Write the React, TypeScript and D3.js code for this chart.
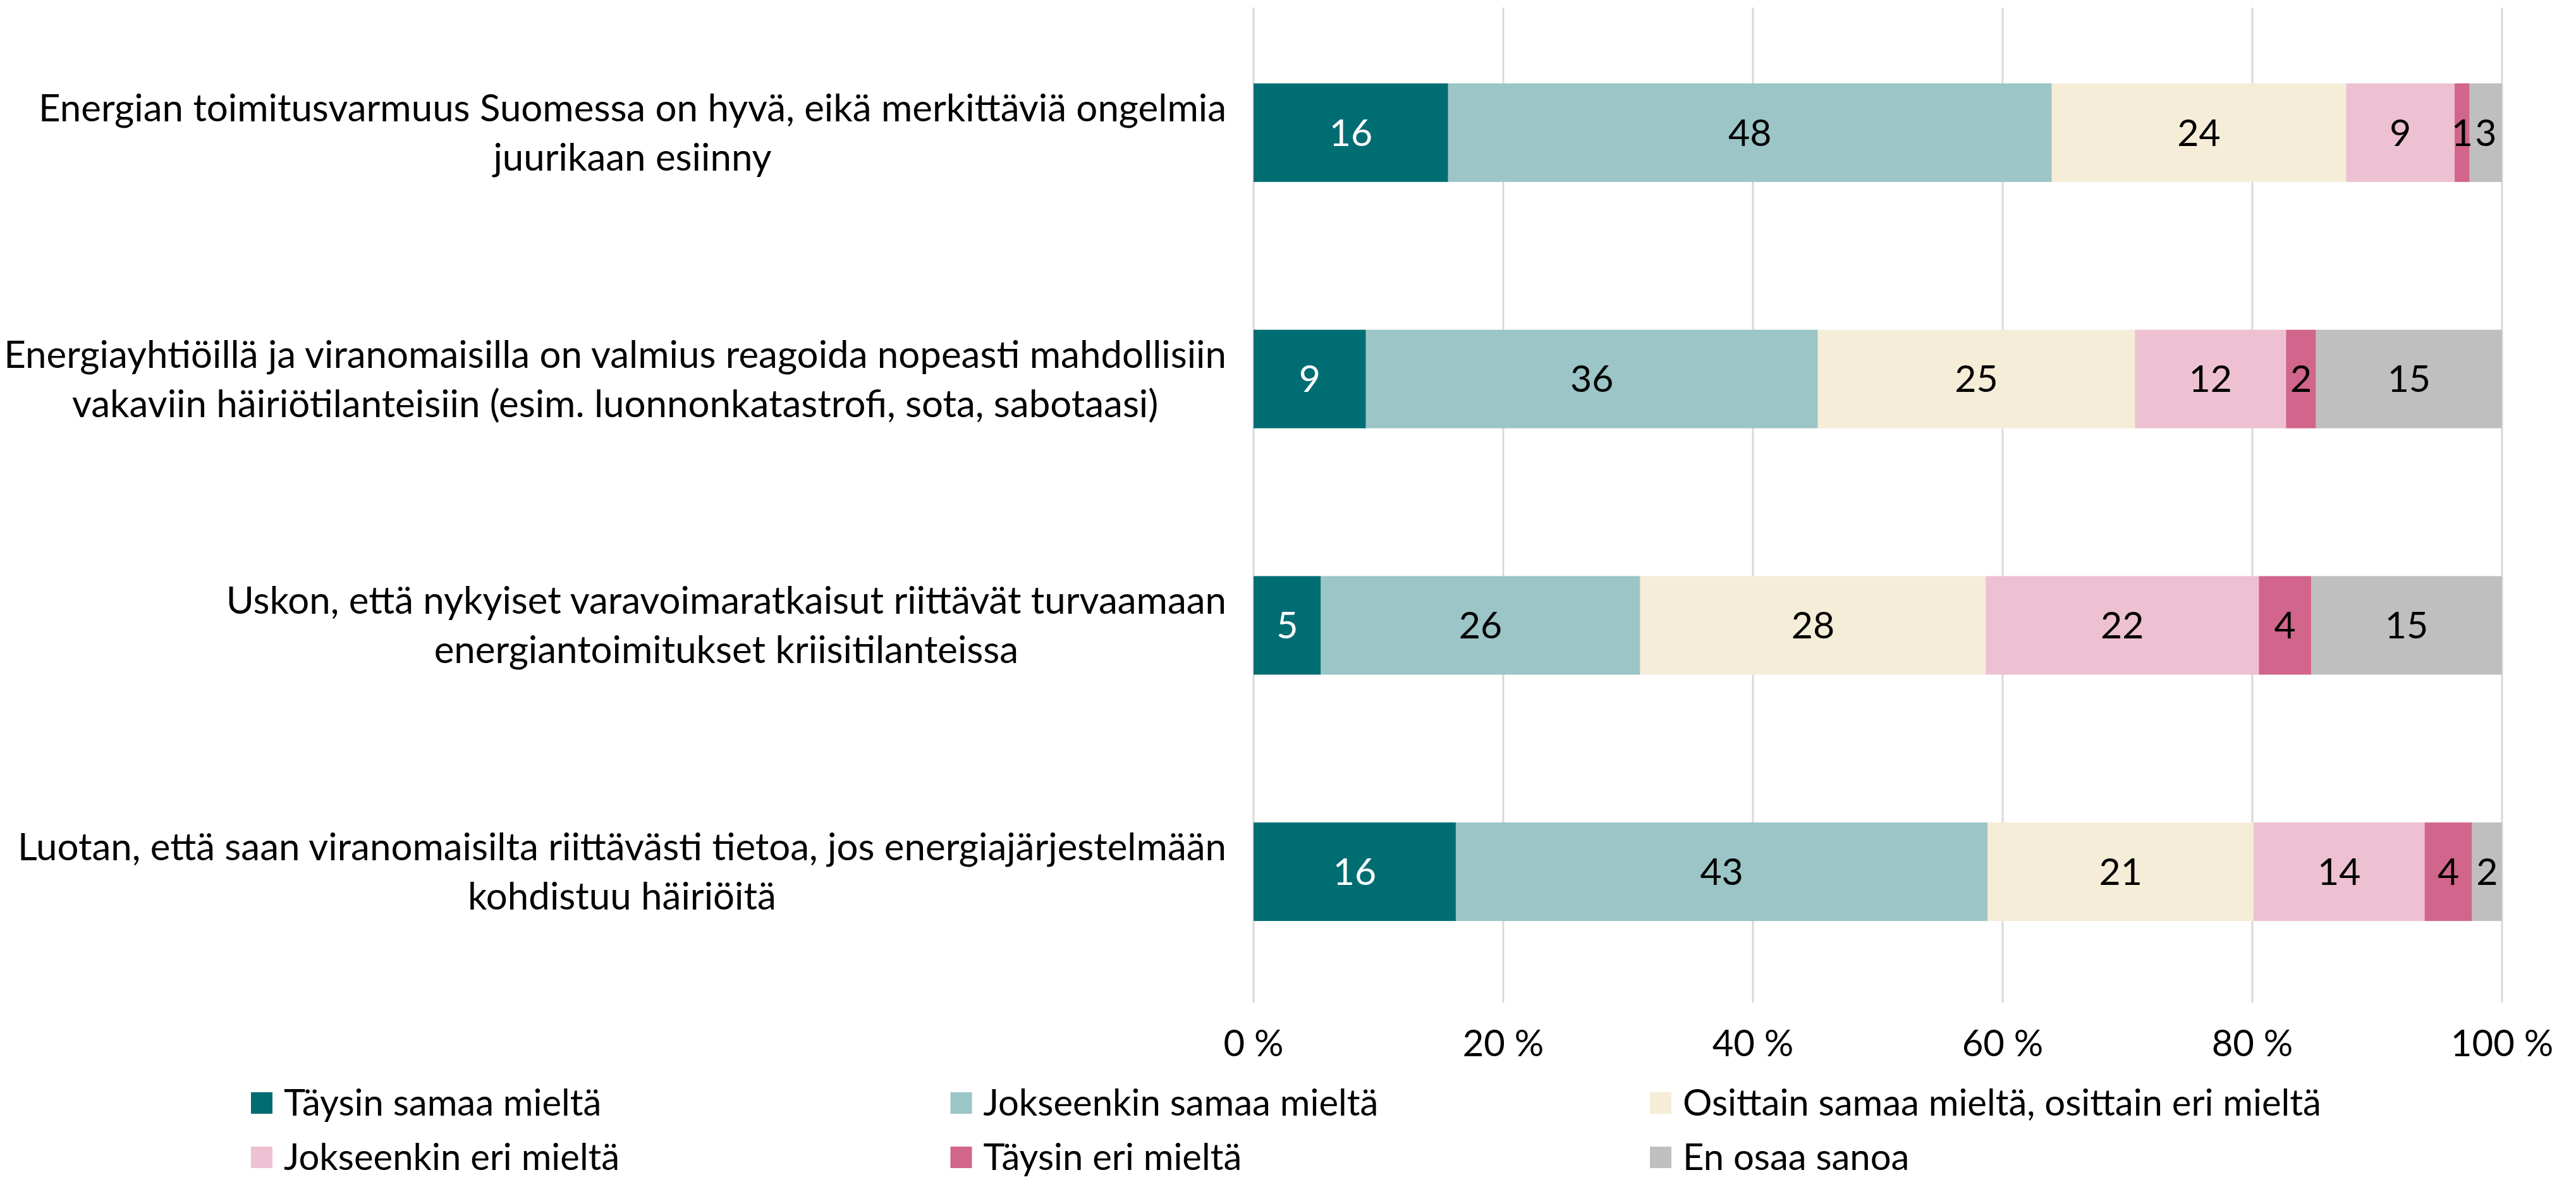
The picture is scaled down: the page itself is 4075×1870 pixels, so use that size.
import { useEffect, useRef } from 'react';
import * as d3 from 'd3';

// ── Data ─────────────────────────────────────────────────────────────────────
const categoryLines: string[][] = [
  ['Energian toimitusvarmuus Suomessa on hyvä, eikä merkittäviä ongelmia', 'juurikaan esiinny'],
  ['Energiayhtiöillä ja viranomaisilla on valmius reagoida nopeasti mahdollisiin', 'vakaviin häiriötilanteisiin (esim. luonnonkatastrofi, sota, sabotaasi)'],
  ['Uskon, että nykyiset varavoimaratkaisut riittävät turvaamaan', 'energiantoimitukset kriisitilanteissa'],
  ['Luotan, että saan viranomaisilta riittävästi tietoa, jos energiajärjestelmään', 'kohdistuu häiriöitä'],
];

const seriesNames = [
  'Täysin samaa mieltä',
  'Jokseenkin samaa mieltä',
  'Osittain samaa mieltä, osittain eri mieltä',
  'Jokseenkin eri mieltä',
  'Täysin eri mieltä',
  'En osaa sanoa',
];

const taysinSamaa     = [15.6,  9.0,  5.4, 16.2];
const jokseenkinSamaa = [48.4, 36.2, 25.6, 42.6];
const osittain        = [23.6, 25.4, 27.7, 21.3];
const jokseenkinEri   = [ 8.7, 12.1, 21.9, 13.7];
const taysinEri       = [ 1.2,  2.4,  4.2,  3.8];
const enOsaa          = [ 2.6, 14.9, 15.3,  2.4];

const xTicks = [0, 0.2, 0.4, 0.6, 0.8, 1];

const COLORS = ['#006d73', '#9bc5c6', '#f5edd7', '#edc1d2', '#d1658c', '#bfbfbf'];
const FONT = 'Lato, "Open Sans", sans-serif';

const W = 4075;
const H = 1870;

export default function App() {
  const svgRef = useRef<SVGSVGElement>(null);

  useEffect(() => {
    if (!svgRef.current) return;
    const svg = d3.select(svgRef.current);
    svg.selectAll('*').remove();

    const allSeries = [taysinSamaa, jokseenkinSamaa, osittain, jokseenkinEri, taysinEri, enOsaa];
    const rows = categoryLines.map((_, i) => {
      const r: Record<string, number> = { idx: i };
      seriesNames.forEach((s, k) => { r[s] = allSeries[k][i]; });
      return r;
    });

    const stacked = d3.stack<Record<string, number>>()
      .keys(seriesNames)
      .offset(d3.stackOffsetExpand)(rows);

    // ── Scales ──────────────────────────────────────────────────────────────
    const x = d3.scaleLinear().domain([0, 1]).range([1983, 3958]);
    const y = d3.scaleBand<number>()
      .domain(categoryLines.map((_, i) => i))
      .range([15, 1574])
      .paddingInner(0.6)
      .paddingOuter(0.3);

    // ── Grid ────────────────────────────────────────────────────────────────
    svg.append('g')
      .selectAll('line')
      .data(xTicks)
      .join('line')
      .attr('x1', d => x(d)).attr('x2', d => x(d))
      .attr('y1', 12).attr('y2', 1586)
      .attr('stroke', '#d9d9d9').attr('stroke-width', 3);

    // ── Bars ────────────────────────────────────────────────────────────────
    const layers = svg.append('g')
      .selectAll('g')
      .data(stacked)
      .join('g')
      .attr('fill', (_, k) => COLORS[k]);

    layers.selectAll('rect')
      .data(d => d)
      .join('rect')
      .attr('x', d => x(d[0]))
      .attr('width', d => x(d[1]) - x(d[0]))
      .attr('y', d => y(d.data.idx)!)
      .attr('height', y.bandwidth());

    // ── Value labels ────────────────────────────────────────────────────────
    stacked.forEach((layer, k) => {
      svg.append('g')
        .selectAll('text')
        .data(layer)
        .join('text')
        .attr('x', d => (x(d[0]) + x(d[1])) / 2)
        .attr('y', d => y(d.data.idx)! + y.bandwidth() / 2)
        .attr('dy', '0.35em')
        .attr('text-anchor', 'middle')
        .attr('font-family', FONT).attr('font-size', 59)
        .attr('fill', k === 0 ? '#ffffff' : '#000000')
        .text(d => Math.round(d.data[seriesNames[k]]));
    });

    // ── Category labels (block right-aligned, lines centred) ───────────────
    const labelRight = 1940;
    categoryLines.forEach((lines, i) => {
      const g = svg.append('g');
      const cy = y(i)! + y.bandwidth() / 2;
      const texts = g.selectAll('text')
        .data(lines)
        .join('text')
        .attr('y', (_, j) => cy + (j - (lines.length - 1) / 2) * 78)
        .attr('dy', '0.35em')
        .attr('text-anchor', 'middle')
        .attr('font-family', FONT).attr('font-size', 60)
        .attr('fill', '#000')
        .text(d => d);
      let maxW = 0;
      texts.each(function () { maxW = Math.max(maxW, (this as SVGTextElement).getComputedTextLength()); });
      texts.attr('x', labelRight - maxW / 2);
    });

    // ── X axis tick labels ──────────────────────────────────────────────────
    svg.append('g')
      .selectAll('text')
      .data(xTicks)
      .join('text')
      .attr('x', d => x(d))
      .attr('y', 1651)
      .attr('dy', '0.35em')
      .attr('text-anchor', 'middle')
      .attr('font-family', FONT).attr('font-size', 58)
      .attr('fill', '#000')
      .text(d => `${Math.round(d * 100)} %`);

    // ── Legend ──────────────────────────────────────────────────────────────
    const legend = svg.append('g')
      .selectAll('g')
      .data(seriesNames)
      .join('g')
      .attr('transform', (_, k) => `translate(${397 + (k % 3) * 1106.5},${1745 + Math.floor(k / 3) * 86})`);

    legend.append('rect')
      .attr('x', 0).attr('y', -17).attr('width', 34).attr('height', 34)
      .attr('fill', (_, k) => COLORS[k]);

    legend.append('text')
      .attr('x', 52).attr('dy', '0.35em')
      .attr('font-family', FONT).attr('font-size', 58)
      .attr('fill', '#000')
      .text(d => d);
  }, []);

  return (
    <div style={{ position: 'absolute', left: 0, top: 0, background: '#fff' }}>
      <svg ref={svgRef} width={W} height={H} style={{ display: 'block' }} />
    </div>
  );
}
